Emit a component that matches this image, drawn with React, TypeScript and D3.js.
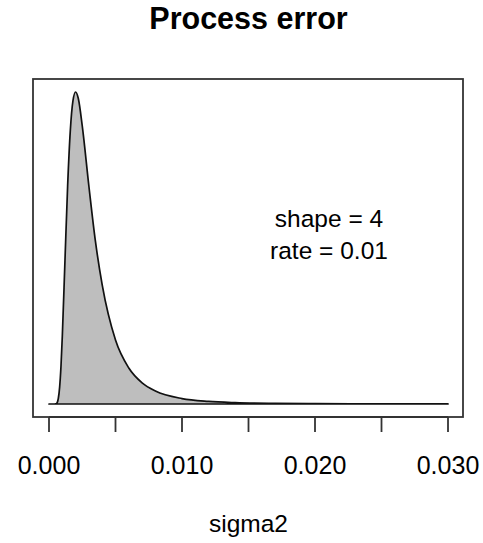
import React from "react";
import * as d3 from "d3";

const width = 483;
const height = 543;
const box = { left: 33, right: 463, top: 79, bottom: 417 };

// values (sigma2, density)
const sigma2 = [0, 0.0004, 0.0005, 0.0006, 0.0007, 0.0008, 0.0009, 0.001, 0.0012, 0.0014, 0.0016, 0.0018, 0.002, 0.0022, 0.0025, 0.003, 0.0035, 0.004, 0.005, 0.006, 0.007, 0.008, 0.01, 0.012, 0.014, 0.017, 0.02, 0.025, 0.03];
const density = [0, 0, 0.1, 1.2, 6.2, 19, 42, 76, 161, 245, 307, 341, 351, 344, 313, 245, 182, 134, 72, 40.5, 23.8, 14.6, 6.1, 2.9, 1.5, 0.65, 0.32, 0.11, 0.05];

const xTicks = [0, 0.005, 0.01, 0.015, 0.02, 0.025, 0.03];
const xLabels = [0, 0.01, 0.02, 0.03];
const annotation = ["shape = 4", "rate = 0.01"];

const font = "'Liberation Sans', Arial, Helvetica, sans-serif";

export default function App() {
  const x = d3.scaleLinear().domain([0, 0.03]).range([49, 448]);
  const y = d3.scaleLinear().domain([0, 351]).range([404, 92]);

  const pts = sigma2.map((s, i) => [s, density[i]] as [number, number]);
  const area = d3.area<[number, number]>()
    .x(d => x(d[0]))
    .y0(y(0))
    .y1(d => y(d[1]))
    .curve(d3.curveMonotoneX);

  return (
    <svg width={width} height={height} style={{ position: "absolute", left: 0, top: 0, background: "#fff" }}>
      <text x={248.5} y={29} textAnchor="middle" fontFamily={font} fontWeight="bold" fontSize={30.5}>Process error</text>

      <path d={area(pts) ?? ""} fill="#bebebe" stroke="#111" strokeWidth={1.7} strokeLinejoin="round" />

      <rect x={box.left} y={box.top} width={box.right - box.left} height={box.bottom - box.top}
        fill="none" stroke="#333" strokeWidth={1.8} />

      <line x1={x(0)} x2={x(0.03)} y1={box.bottom} y2={box.bottom} stroke="#333" strokeWidth={1.8} />
      {xTicks.map(t => (
        <line key={t} x1={x(t)} x2={x(t)} y1={box.bottom} y2={box.bottom + 15} stroke="#333" strokeWidth={1.8} />
      ))}
      {xLabels.map(t => (
        <text key={t} x={x(t)} y={474} textAnchor="middle" fontFamily={font} fontSize={25}>{d3.format(".3f")(t)}</text>
      ))}
      <text x={248.5} y={532} textAnchor="middle" fontFamily={font} fontSize={24.5}>sigma2</text>

      {annotation.map((a, i) => (
        <text key={a} x={329} y={227 + i * 32} textAnchor="middle" fontFamily={font} fontSize={24.5}>{a}</text>
      ))}
    </svg>
  );
}
